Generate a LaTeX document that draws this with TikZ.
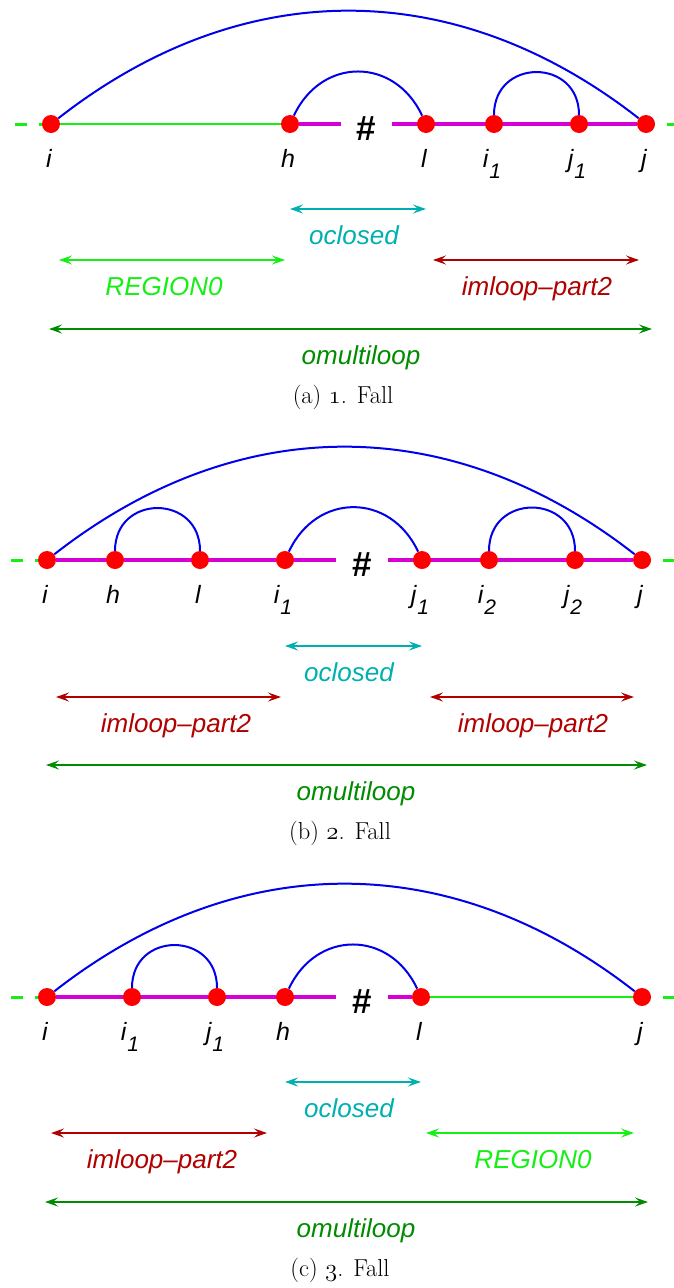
\documentclass[tikz,border=0pt]{standalone}
\usepackage{fontspec}
\newfontfamily\helv{Liberation Sans}
\usetikzlibrary{positioning, arrows.meta, backgrounds}
\usepackage{xcolor}

\definecolor{dotred}{RGB}{255,0,0}
\definecolor{arcblue}{RGB}{0,0,235}
\definecolor{stemmag}{RGB}{212,0,212}
\definecolor{regiongreen}{RGB}{20,240,20}
\definecolor{multigreen}{RGB}{0,140,0}
\definecolor{closedcyan}{RGB}{0,176,176}
\definecolor{partred}{RGB}{176,0,0}

% index with a lowered, nearly full size subscript
\newcommand{\sub}[1]{\kern1pt\raisebox{-11pt}{\fontsize{21}{21}\selectfont #1}}
% old style figure for the case number
\newcommand{\osf}[1]{{\usefont{OML}{cmm}{m}{it}#1}}

\begin{document}
\begin{tikzpicture}[
    x=1pt, y=1pt,
    dot/.style={circle, fill=dotred, inner sep=0pt, minimum size=18pt},
    pairarc/.style={draw=arcblue, line width=2pt},
    backbone/.style={draw=stemmag, line width=4pt},
    region/.style={draw=regiongreen, line width=2.7pt},
    tail/.style={draw=regiongreen, line width=3pt, dash pattern=on 12pt off 12pt},
    hash/.style={font=\helv\bfseries\fontsize{35}{35}\selectfont, minimum width=51pt, inner sep=0pt, yshift=-5pt},
    lbl/.style={font=\helv\itshape\fontsize{25}{25}\selectfont, anchor=base, inner sep=0pt, xshift=-2pt},
    span/.style={<->, >={Stealth[length=13pt, width=9pt, inset=5pt]}, line width=2.2pt},
    txt/.style={font=\helv\itshape\fontsize{26}{26}\selectfont, anchor=base, inner sep=0pt},
    subcap/.style={font=\fontsize{24.5}{28}\selectfont, inner sep=0pt}
]
    \useasboundingbox (0,0) rectangle (673,-1288);

    % (a) 1. Fall
    \node[dot] (a-i)  at (51,-124)  {}; \node[lbl] (a-ti)  at ([yshift=-43pt]a-i.center)  {i};
    \node[dot] (a-h)  at (290,-124) {}; \node[lbl] (a-th)  at ([yshift=-43pt]a-h.center)  {h};
    \node[dot] (a-l)  at (426,-124) {}; \node[lbl] (a-tl)  at ([yshift=-43pt]a-l.center)  {l};
    \node[dot] (a-i1) at (494,-124) {}; \node[lbl] (a-ti1) at ([yshift=-43pt]a-i1.center) {i\sub{1}};
    \node[dot] (a-j1) at (579,-124) {}; \node[lbl] (a-tj1) at ([yshift=-43pt]a-j1.center) {j\sub{1}};
    \node[dot] (a-j)  at (646,-124) {}; \node[lbl] (a-tj)  at ([yshift=-43pt]a-j.center)  {j};
    \node[hash] (a-hash) at (366.5,-124) {\#};
    \coordinate (a-lt) at (15,-124);
    \coordinate (a-rt) at (679,-124);

    \begin{scope}[on background layer]
        \draw[tail] (a-lt) -- (a-i.center);
        \draw[tail] (a-rt) -- (a-j.center);
        \draw[region] (a-i) -- (a-h);
        \draw[backbone] (a-h) -- (a-hash.west |- a-h);
        \draw[backbone] (a-hash.east |- a-h) -- (a-j);
        \draw[pairarc] (a-i) to[out=38, in=142, looseness=1.03] (a-j);
        \draw[pairarc] (a-h) to[out=65, in=115, looseness=1.3] (a-l);
        \draw[pairarc] (a-i1) to[out=90, in=90, looseness=1.72] (a-j1);
    \end{scope}

    \draw[span, closedcyan] ([yshift=-85pt]a-h.center) -- ([yshift=-85pt]a-l.center);
    \node[txt, text=closedcyan] (a-closed) at (354,-244) {oclosed};
    \draw[span, regiongreen] ([xshift=8pt, yshift=-136pt]a-i.center) -- ([xshift=-5pt, yshift=-136pt]a-h.center);
    \node[txt, text=regiongreen] (a-region) at (164,-295) {REGION0};
    \draw[span, partred] ([xshift=7pt, yshift=-136pt]a-l.center) -- ([xshift=-7pt, yshift=-136pt]a-j.center);
    \node[txt, text=partred] (a-part) at (537,-295) {imloop\textendash part2};
    \draw[span, multigreen] ([xshift=-2pt, yshift=-205pt]a-i.center) -- ([xshift=6pt, yshift=-205pt]a-j.center);
    \node[txt, text=multigreen] (a-multi) at (361,-364) {omultiloop};
    \node[subcap] (a-cap) at (343,-397) {(a) \osf{1}. Fall};

    % (b) 2. Fall
    \node[dot] (b-i)  at (47,-560)  {}; \node[lbl] (b-ti)  at ([yshift=-43pt]b-i.center)  {i};
    \node[dot] (b-h)  at (115,-560) {}; \node[lbl] (b-th)  at ([yshift=-43pt]b-h.center)  {h};
    \node[dot] (b-l)  at (200,-560) {}; \node[lbl] (b-tl)  at ([yshift=-43pt]b-l.center)  {l};
    \node[dot] (b-i1) at (285,-560) {}; \node[lbl] (b-ti1) at ([yshift=-43pt]b-i1.center) {i\sub{1}};
    \node[dot] (b-j1) at (422,-560) {}; \node[lbl] (b-tj1) at ([yshift=-43pt]b-j1.center) {j\sub{1}};
    \node[dot] (b-i2) at (489,-560) {}; \node[lbl] (b-ti2) at ([yshift=-43pt]b-i2.center) {i\sub{2}};
    \node[dot] (b-j2) at (575,-560) {}; \node[lbl] (b-tj2) at ([yshift=-43pt]b-j2.center) {j\sub{2}};
    \node[dot] (b-j)  at (642,-560) {}; \node[lbl] (b-tj)  at ([yshift=-43pt]b-j.center)  {j};
    \node[hash] (b-hash) at (362,-560) {\#};
    \coordinate (b-lt) at (11,-560);
    \coordinate (b-rt) at (675,-560);

    \begin{scope}[on background layer]
        \draw[tail] (b-lt) -- (b-i.center);
        \draw[tail] (b-rt) -- (b-j.center);
        \draw[backbone] (b-i) -- (b-hash.west |- b-i);
        \draw[backbone] (b-hash.east |- b-i) -- (b-j);
        \draw[pairarc] (b-i) to[out=38, in=142, looseness=1.03] (b-j);
        \draw[pairarc] (b-h) to[out=90, in=90, looseness=1.72] (b-l);
        \draw[pairarc] (b-i1) to[out=65, in=115, looseness=1.3] (b-j1);
        \draw[pairarc] (b-i2) to[out=90, in=90, looseness=1.72] (b-j2);
    \end{scope}

    \draw[span, closedcyan] ([yshift=-86pt]b-i1.center) -- ([yshift=-86pt]b-j1.center);
    \node[txt, text=closedcyan] (b-closed) at (349,-681) {oclosed};
    \draw[span, partred] ([xshift=9pt, yshift=-137pt]b-i.center) -- ([xshift=-4pt, yshift=-137pt]b-i1.center);
    \node[txt, text=partred] (b-partl) at (176,-732) {imloop\textendash part2};
    \draw[span, partred] ([xshift=8pt, yshift=-137pt]b-j1.center) -- ([xshift=-8pt, yshift=-137pt]b-j.center);
    \node[txt, text=partred] (b-partr) at (533,-732) {imloop\textendash part2};
    \draw[span, multigreen] ([xshift=-1pt, yshift=-205pt]b-i.center) -- ([xshift=5pt, yshift=-205pt]b-j.center);
    \node[txt, text=multigreen] (b-multi) at (356,-800) {omultiloop};
    \node[subcap] (b-cap) at (340,-833) {(b) \osf{2}. Fall};

    % (c) 3. Fall
    \node[dot] (c-i)  at (47,-997)  {}; \node[lbl] (c-ti)  at ([yshift=-43pt]c-i.center)  {i};
    \node[dot] (c-i1) at (132,-997) {}; \node[lbl] (c-ti1) at ([yshift=-43pt]c-i1.center) {i\sub{1}};
    \node[dot] (c-j1) at (217,-997) {}; \node[lbl] (c-tj1) at ([yshift=-43pt]c-j1.center) {j\sub{1}};
    \node[dot] (c-h)  at (285,-997) {}; \node[lbl] (c-th)  at ([yshift=-43pt]c-h.center)  {h};
    \node[dot] (c-l)  at (421,-997) {}; \node[lbl] (c-tl)  at ([yshift=-43pt]c-l.center)  {l};
    \node[dot] (c-j)  at (642,-997) {}; \node[lbl] (c-tj)  at ([yshift=-43pt]c-j.center)  {j};
    \node[hash] (c-hash) at (362,-997) {\#};
    \coordinate (c-lt) at (11,-997);
    \coordinate (c-rt) at (675,-997);

    \begin{scope}[on background layer]
        \draw[tail] (c-lt) -- (c-i.center);
        \draw[tail] (c-rt) -- (c-j.center);
        \draw[backbone] (c-i) -- (c-hash.west |- c-i);
        \draw[backbone] (c-hash.east |- c-i) -- (c-l);
        \draw[region] (c-l) -- (c-j);
        \draw[pairarc] (c-i) to[out=38, in=142, looseness=1.03] (c-j);
        \draw[pairarc] (c-i1) to[out=90, in=90, looseness=1.72] (c-j1);
        \draw[pairarc] (c-h) to[out=65, in=115, looseness=1.3] (c-l);
    \end{scope}

    \draw[span, closedcyan] ([yshift=-85pt]c-h.center) -- ([yshift=-85pt]c-l.center);
    \node[txt, text=closedcyan] (c-closed) at (349,-1117) {oclosed};
    \draw[span, partred] ([xshift=4pt, yshift=-136pt]c-i.center) -- ([xshift=-18pt, yshift=-136pt]c-h.center);
    \node[txt, text=partred] (c-part) at (162,-1168) {imloop\textendash part2};
    \draw[span, regiongreen] ([xshift=5pt, yshift=-136pt]c-l.center) -- ([xshift=-8pt, yshift=-136pt]c-j.center);
    \node[txt, text=regiongreen] (c-region) at (533,-1168) {REGION0};
    \draw[span, multigreen] ([xshift=-2pt, yshift=-205pt]c-i.center) -- ([xshift=6pt, yshift=-205pt]c-j.center);
    \node[txt, text=multigreen] (c-multi) at (356,-1237) {omultiloop};
    \node[subcap] (c-cap) at (340,-1270) {(c) \osf{3}. Fall};
\end{tikzpicture}
\end{document}
